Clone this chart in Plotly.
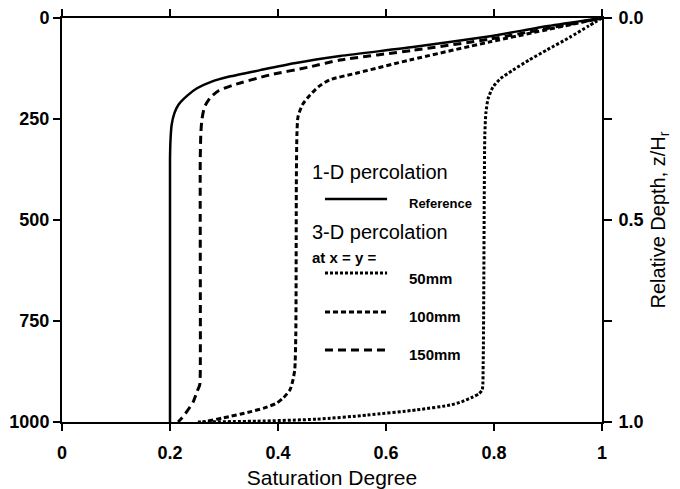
import plotly.graph_objects as go

# ---- data (saturation degree vs depth in mm) ----
ref_sat = [1.0, 0.90, 0.793, 0.65, 0.515, 0.43, 0.367, 0.31, 0.276, 0.25, 0.232, 0.216, 0.208, 0.203, 0.201, 0.200, 0.200]
ref_depth = [0, 20, 45, 72, 94, 112, 129, 145, 158, 174, 192, 214, 236, 265, 300, 350, 1000]

s150_sat = [1.0, 0.793, 0.65, 0.515, 0.459, 0.385, 0.317, 0.29, 0.274, 0.264, 0.259, 0.257, 0.256, 0.256, 0.255, 0.250, 0.243, 0.237, 0.228, 0.222, 0.215]
s150_depth = [0, 52, 80, 104, 121, 141, 166, 180, 198, 220, 252, 290, 350, 880, 908, 925, 950, 963, 980, 990, 1000]

s100_sat = [1.0, 0.793, 0.644, 0.55, 0.496, 0.475, 0.459, 0.445, 0.437, 0.435, 0.434, 0.433, 0.431, 0.427, 0.422, 0.41, 0.398, 0.375, 0.348, 0.298, 0.269, 0.26]
s100_depth = [0, 59, 104, 135, 153, 170, 191, 215, 245, 290, 400, 780, 871, 900, 921, 940, 953, 965, 975, 990, 998, 1000]

s50_sat = [1.0, 0.975, 0.94, 0.898, 0.865, 0.835, 0.812, 0.798, 0.789, 0.785, 0.783, 0.780, 0.778, 0.772, 0.761, 0.74, 0.719, 0.657, 0.565, 0.472, 0.36, 0.25]
s50_depth = [0, 20, 48, 79, 104, 129, 150, 171, 200, 235, 290, 850, 921, 930, 938, 950, 958, 970, 983, 993, 998, 1000]

x_ticks = [0, 0.2, 0.4, 0.6, 0.8, 1]
x_labels = ["0", "0.2", "0.4", "0.6", "0.8", "1"]
y_ticks = [0, 250, 500, 750, 1000]
y_labels = ["0", "250", "500", "750", "1000"]
rel_ticks = [0, 0.5, 1.0]
rel_labels = ["0.0", "0.5", "1.0"]
rel_minor = [0.25, 0.75]

FONT = "Liberation Sans, Arial, Helvetica, sans-serif"

fig = go.Figure()
fig.add_trace(go.Scatter(x=ref_sat, y=ref_depth, mode="lines",
                         line=dict(color="black", width=2.5, shape="spline", smoothing=0.6),
                         hoverinfo="skip"))
fig.add_trace(go.Scatter(x=s150_sat, y=s150_depth, mode="lines",
                         line=dict(color="black", width=3, dash="8px,5px", shape="spline", smoothing=0.6),
                         hoverinfo="skip"))
fig.add_trace(go.Scatter(x=s100_sat, y=s100_depth, mode="lines",
                         line=dict(color="black", width=3, dash="5px,3px", shape="spline", smoothing=0.6),
                         hoverinfo="skip"))
fig.add_trace(go.Scatter(x=s50_sat, y=s50_depth, mode="lines",
                         line=dict(color="black", width=3, dash="3px,2px", shape="spline", smoothing=0.6),
                         hoverinfo="skip"))

axis_common = dict(showgrid=False, zeroline=False, showline=True, linecolor="black",
                   linewidth=2, ticks="outside", tickcolor="black", tickwidth=1.5,
                   automargin=False,
                   tickfont=dict(family=FONT, size=18, color="black", weight="bold"))

fig.update_layout(
    width=680, height=489,
    margin=dict(l=62, r=78, t=18, b=67),
    paper_bgcolor="white", plot_bgcolor="white",
    showlegend=False,
    xaxis=dict(range=[0, 1], tickvals=x_ticks, ticktext=x_labels, ticklen=7,
               mirror="ticks", ticklabelstandoff=6,
               title=dict(text="Saturation Degree", font=dict(family=FONT, size=21, color="black"),
                          standoff=12),
               **axis_common),
    yaxis=dict(range=[1000, 0], tickvals=y_ticks, ticktext=y_labels, ticklen=7,
               mirror=False, **axis_common),
    yaxis2=dict(range=[1, 0], overlaying="y", side="right", tickvals=rel_ticks,
                ticktext=rel_labels, ticklen=8, ticklabelstandoff=3,
                minor=dict(tickvals=rel_minor, ticks="outside", ticklen=8,
                           tickcolor="black", tickwidth=1.5, showgrid=False),
                title=dict(text="Relative Depth, z/H<sub>r</sub>",
                           font=dict(family=FONT, size=20, color="black"), standoff=8),
                **axis_common),
)

# ---- legend drawn inside the plot (x in saturation units, y in relative depth) ----
lx0, lx1, tx_head, tx_lab = 0.487, 0.602, 0.459, 0.639
legend_lines = [
    (0.448, dict(color="black", width=2.5)),
    (0.631, dict(color="black", width=3, dash="3px,2px")),
    (0.728, dict(color="black", width=3, dash="5px,3px")),
    (0.822, dict(color="black", width=3, dash="8px,5px")),
]
for yy, ln in legend_lines:
    fig.add_shape(type="line", xref="x", yref="y2", x0=lx0, x1=lx1, y0=yy, y1=yy, line=ln)

texts = [
    ("1-D percolation", tx_head, 0.381, 20, "normal"),
    ("Reference", tx_lab, 0.458, 13, "bold"),
    ("3-D percolation", tx_head, 0.530, 20, "normal"),
    ("at x = y =", tx_head, 0.592, 15, "bold"),
    ("50mm", tx_lab, 0.646, 15, "bold"),
    ("100mm", tx_lab, 0.740, 15, "bold"),
    ("150mm", tx_lab, 0.834, 15, "bold"),
]
for t, xx, yy, sz, wt in texts:
    fig.add_annotation(text=t, x=xx, y=yy, xref="x", yref="y2", xanchor="left", yanchor="middle",
                       showarrow=False, font=dict(family=FONT, size=sz, color="black", weight=wt))

fig.write_html("out.html")
